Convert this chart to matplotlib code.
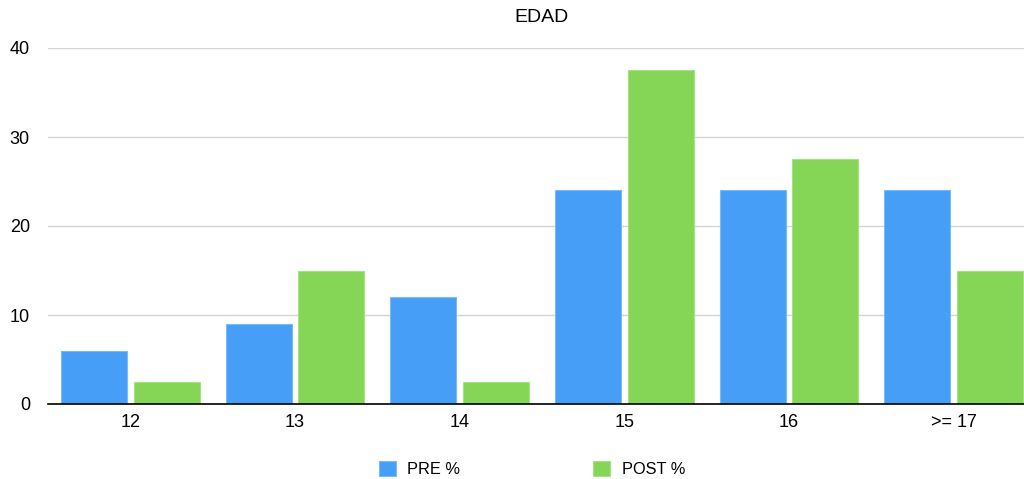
import matplotlib.pyplot as plt
import numpy as np

categories = ["12", "13", "14", "15", "16", ">= 17"]
pre = [6, 9, 12, 24, 24, 24]
post = [2.5, 15, 2.5, 37.5, 27.5, 15]
yticks = [0, 10, 20, 30, 40]

plt.rcParams["font.family"] = ["Liberation Sans", "DejaVu Sans"]

fig = plt.figure(figsize=(10.24, 4.79), dpi=100)
# right edge of the plot runs slightly past the image
ax = fig.add_axes([48 / 1024, 1 - 404 / 479, 988 / 1024, 356 / 479])

x = np.arange(len(categories))
w = 0.4
off = 0.221
ax.bar(x - off, pre, w, color="#479ef7", edgecolor="#7bbaf9", linewidth=0.8,
       label="PRE %", zorder=2)
ax.bar(x + off, post, w, color="#85d656", edgecolor="#a6e283", linewidth=0.8,
       label="POST %", zorder=2)

ax.set_xlim(-0.5, len(categories) - 0.5)
ax.set_ylim(0, 40)
ax.set_xticks(x)
ax.set_xticklabels(categories, fontsize=13)
ax.set_yticks(yticks)
ax.tick_params(axis="y", length=0, pad=13, labelsize=13)
ax.tick_params(axis="x", length=0, pad=7)
ax.grid(axis="y", color="#d4d4d4", linewidth=1, zorder=0)
for s in ["top", "right", "left"]:
    ax.spines[s].set_visible(False)
ax.spines["bottom"].set_color("black")
ax.spines["bottom"].set_linewidth(1.2)
ax.spines["bottom"].set_zorder(3)

fig.text(542 / 1024, 1 - 18 / 479, "EDAD", ha="center", va="center", fontsize=14)

fig.legend(loc="center", bbox_to_anchor=(532 / 1024, 1 - 469 / 479), ncol=2,
           frameon=False, fontsize=11.8, handlelength=1.05, handleheight=1.05,
           handletextpad=0.7, columnspacing=8.1)

fig.savefig("out.png", dpi=100)
